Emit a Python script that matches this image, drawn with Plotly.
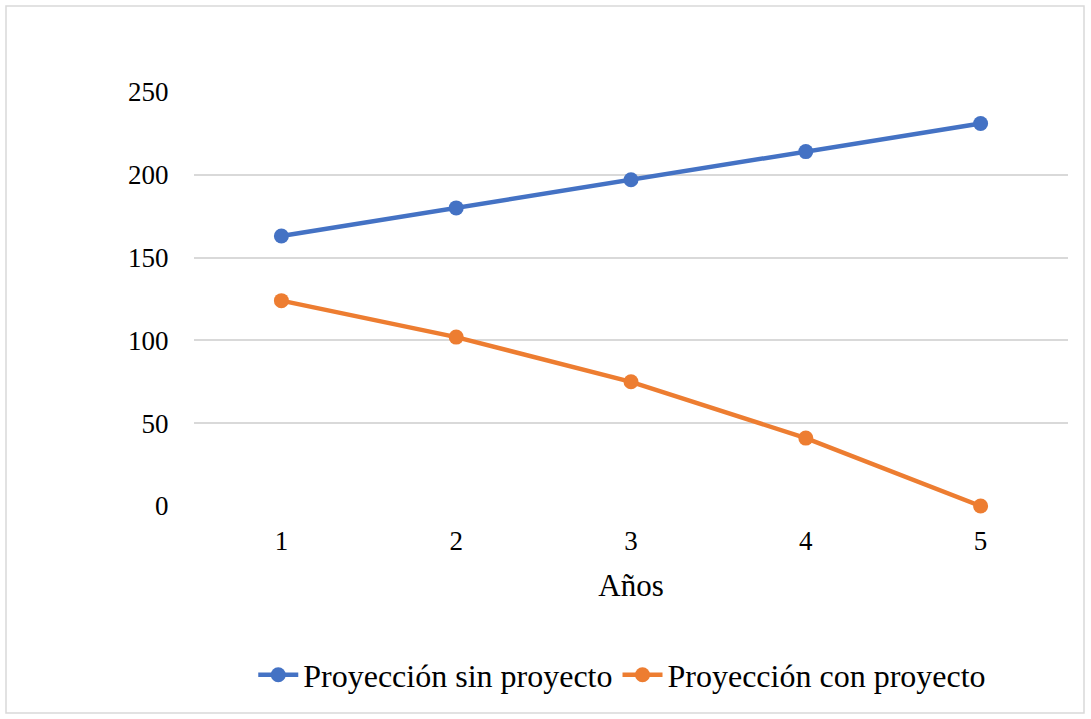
import plotly.graph_objects as go

years = [1, 2, 3, 4, 5]
sin_proyecto = [163, 180, 197, 214, 231]
con_proyecto = [124, 102, 75, 41, 0]
y_ticks = [0, 50, 100, 150, 200, 250]

FONT = "Liberation Serif, Times New Roman, serif"
BLUE = "#4472C4"
ORANGE = "#ED7D31"

fig = go.Figure()
fig.add_trace(go.Scatter(
    x=years, y=sin_proyecto, mode="lines+markers",
    name="Proyección sin proyecto", cliponaxis=False,
    line=dict(color=BLUE, width=4.5), marker=dict(color=BLUE, size=15),
))
fig.add_trace(go.Scatter(
    x=years, y=con_proyecto, mode="lines+markers",
    name="Proyección con proyecto", cliponaxis=False,
    line=dict(color=ORANGE, width=4.5), marker=dict(color=ORANGE, size=15),
))

fig.update_layout(
    width=1091, height=719,
    margin=dict(l=194, r=23, t=92, b=213),
    paper_bgcolor="white", plot_bgcolor="white",
    font=dict(family=FONT, size=27, color="black"),
    showlegend=True,
    legend=dict(orientation="h", x=0.49, xanchor="center", y=-0.408, yanchor="middle",
                font=dict(size=32), itemwidth=40, bgcolor="rgba(0,0,0,0)"),
    xaxis=dict(range=[0.5, 5.5], tickvals=years, ticktext=[str(v) for v in years],
               showgrid=False, zeroline=False, showline=False,
               ticks="outside", ticklen=11, tickcolor="rgba(0,0,0,0)",
               title=dict(text="Años", standoff=18, font=dict(size=31))),
    yaxis=dict(range=[0, 250], tickvals=y_ticks, showgrid=True, gridcolor="#D9D9D9",
               gridwidth=1.5, zeroline=False, showline=False,
               ticks="outside", ticklen=19, tickcolor="rgba(0,0,0,0)"),
    shapes=[dict(type="rect", xref="paper", yref="paper",
                 x0=-0.2151, x1=1.0183, y0=-0.5, y1=1.2077,
                 line=dict(color="#D9D9D9", width=1.5), layer="below")],
)

fig.write_html("out.html")
